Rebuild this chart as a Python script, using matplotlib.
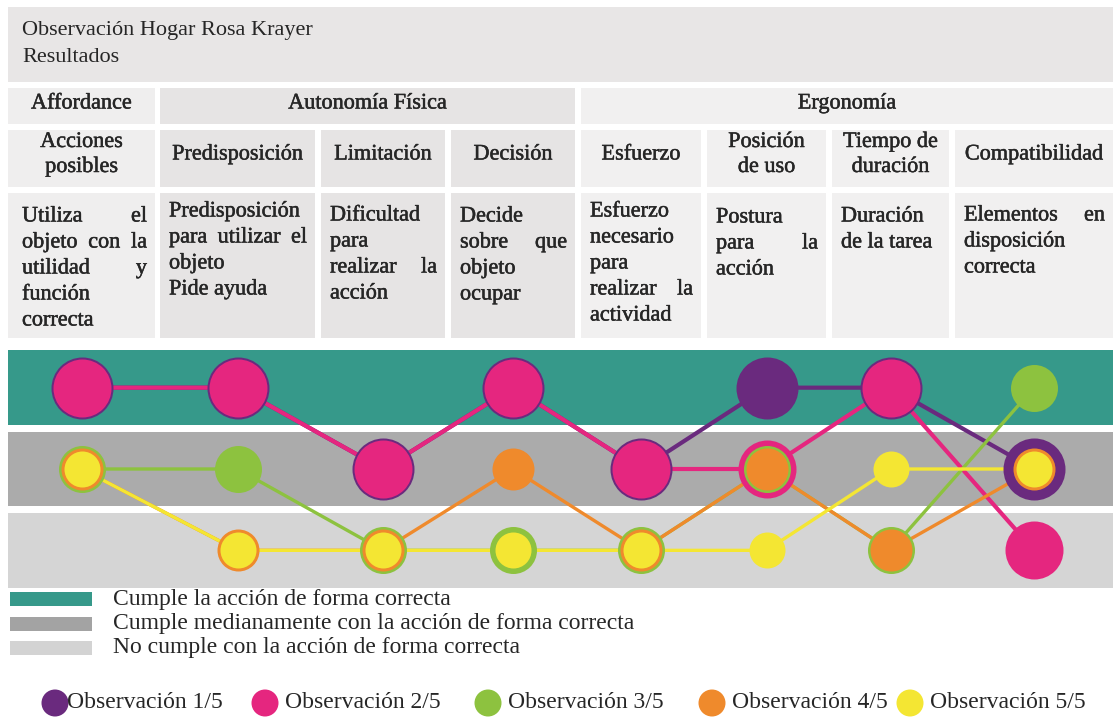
import matplotlib
matplotlib.use('Agg')
import matplotlib.pyplot as plt
from matplotlib.patches import Rectangle
import matplotlib.patheffects as pe

# Datos
titulo = "Observación Hogar Rosa Krayer"
subtitulo = "Resultados"
grupos = ["Affordance", "Autonomía Física", "Ergonomía"]
columnas_por_grupo = [1, 3, 4]
criterios = [["Acciones", "posibles"], ["Predisposición"], ["Limitación"], ["Decisión"],
             ["Esfuerzo"], ["Posición", "de uso"], ["Tiempo de", "duración"], ["Compatibilidad"]]
descripciones = [
    ["Utiliza el", "objeto con la", "utilidad y", "función", "correcta"],
    ["Predisposición", "para utilizar el", "objeto", "Pide ayuda"],
    ["Dificultad", "para", "realizar la", "acción"],
    ["Decide", "sobre que", "objeto", "ocupar"],
    ["Esfuerzo", "necesario", "para", "realizar la", "actividad"],
    ["Postura", "para la", "acción"],
    ["Duración", "de la tarea"],
    ["Elementos en", "disposición", "correcta"],
]
niveles_txt = ["Cumple la acción de forma correcta",
               "Cumple medianamente con la acción de forma correcta",
               "No cumple con la acción de forma correcta"]
# 2 = cumple, 1 = cumple medianamente, 0 = no cumple
observaciones = ["Observación 1/5", "Observación 2/5", "Observación 3/5",
                 "Observación 4/5", "Observación 5/5"]
obs1 = [2, 2, 1, 2, 1, 2, 2, 1]
obs2 = [2, 2, 1, 2, 1, 1, 2, 0]
obs3 = [1, 1, 0, 0, 0, 1, 0, 2]
obs4 = [1, 0, 0, 1, 0, 1, 0, 1]
obs5 = [1, 0, 0, 0, 0, 0, 1, 1]

# Estilo
W, H = 1118, 721
FUENTE = 'Liberation Serif'
TXT = '#262626'
col_obs = ['#6a2a7e', '#e5267f', '#8dc23f', '#ef8a2c', '#f4e633']
tam_obs = [31, 29, 23.5, 21, 18]      # radio en px
ancho_linea = [3.0, 3.0, 2.4, 2.4, 2.4]
col_bandas = ['#d5d5d5', '#ababab', '#36998a']
col_ley_bandas = ['#36998a', '#a3a3a3', '#d3d3d3']

bordes = [(8, 155), (160, 315), (321, 445), (451, 575),
          (581, 701), (707, 826), (832, 949), (955, 1113)]
centros = [(a + b) / 2 for a, b in bordes]
inicio_desc = [217, 212, 216, 217, 212, 218, 217, 216]
fondo_grupo = ['#efeeee', '#e6e4e4', '#f1f0f0']
grupo_de_col = []
for g, n in enumerate(columnas_por_grupo):
    grupo_de_col += [g] * n

fig = plt.figure(figsize=(W / 100, H / 100), dpi=100)
ax = fig.add_axes([0, 0, 1, 1])
ax.set_xlim(0, W)
ax.set_ylim(H, 0)
ax.axis('off')
renderer = fig.canvas.get_renderer()
efecto = [pe.withStroke(linewidth=0.35, foreground=TXT)]


def texto(x, y, s, ha='left', negrita=True, size=16, **kw):
    t = ax.text(x, y, s, ha=ha, va='center', family=FUENTE, fontsize=size,
                color=TXT, **kw)
    if negrita:
        t.set_path_effects(efecto)
    return t


# Cabecera
ax.add_patch(Rectangle((8, 7), 1105, 75, color='#e8e6e6', lw=0))
texto(22, 31, titulo, negrita=False)
texto(22, 57, subtitulo, negrita=False)

# Fila de grupos
c = 0
for g, n in enumerate(columnas_por_grupo):
    x0 = bordes[c][0]
    x1 = bordes[c + n - 1][1]
    ax.add_patch(Rectangle((x0, 88), x1 - x0, 36, color=fondo_grupo[g], lw=0))
    texto((x0 + x1) / 2, 104, grupos[g], ha='center')
    c += n

# Criterios y descripciones
for i, (a, b) in enumerate(bordes):
    fc = fondo_grupo[grupo_de_col[i]]
    ax.add_patch(Rectangle((a, 130), b - a, 57, color=fc, lw=0))
    ax.add_patch(Rectangle((a, 193), b - a, 145, color=fc, lw=0))
    lineas = criterios[i]
    for k, s in enumerate(lineas):
        texto(centros[i], 155 + (k - (len(lineas) - 1) / 2) * 25, s, ha='center')
    x0, x1 = a + (14 if i == 0 else 9), b - 8
    for k, s in enumerate(descripciones[i]):
        y = inicio_desc[i] + k * 26
        palabras = s.split()
        if k == len(descripciones[i]) - 1 or len(palabras) == 1:
            texto(x0, y, s)
            continue
        ts = [texto(0, y, p) for p in palabras]
        anchos = [t.get_window_extent(renderer).width for t in ts]
        hueco = (x1 - x0 - sum(anchos)) / (len(palabras) - 1)
        x = x0
        for t, w in zip(ts, anchos):
            t.set_x(x)
            x += w + hueco

# Gráfico de niveles
ax2 = fig.add_axes([0, 1 - 591 / H, 1, 244 / H])
ax2.set_xlim(0, W)
ax2.set_ylim(-0.5, 2.5)
ax2.axis('off')
ax2.barh([0, 1, 2], 1105, left=8, height=0.92, color=col_bandas, zorder=0)

series = [obs1, obs2, obs3, obs4, obs5]
for j, serie in enumerate(series):
    ax2.plot(centros, serie, color=col_obs[j], lw=ancho_linea[j], zorder=1,
             solid_capstyle='round')
for j, serie in enumerate(series):
    s = (2 * tam_obs[j] * 0.72) ** 2
    ax2.scatter(centros, serie, s=s, color=col_obs[j], lw=0, zorder=3 + j)

# Leyenda de niveles
for k, s in enumerate(niveles_txt):
    y = 599 + k * 24.5
    ax.add_patch(Rectangle((10, y - 7), 82, 14, color=col_ley_bandas[k], lw=0))
    texto(113, y, s, negrita=False, size=17)

# Leyenda de observaciones
x_ley = [55, 265, 488, 712, 910]
ax.scatter(x_ley, [703] * 5, s=(2 * 13.5 * 0.72) ** 2, color=col_obs, lw=0, zorder=3)
for k, s in enumerate(observaciones):
    texto(x_ley[k] + 12 if k == 0 else x_ley[k] + 20, 703, s, negrita=False,
          size=17, zorder=4)

fig.savefig('out.png', dpi=100, facecolor='white')
